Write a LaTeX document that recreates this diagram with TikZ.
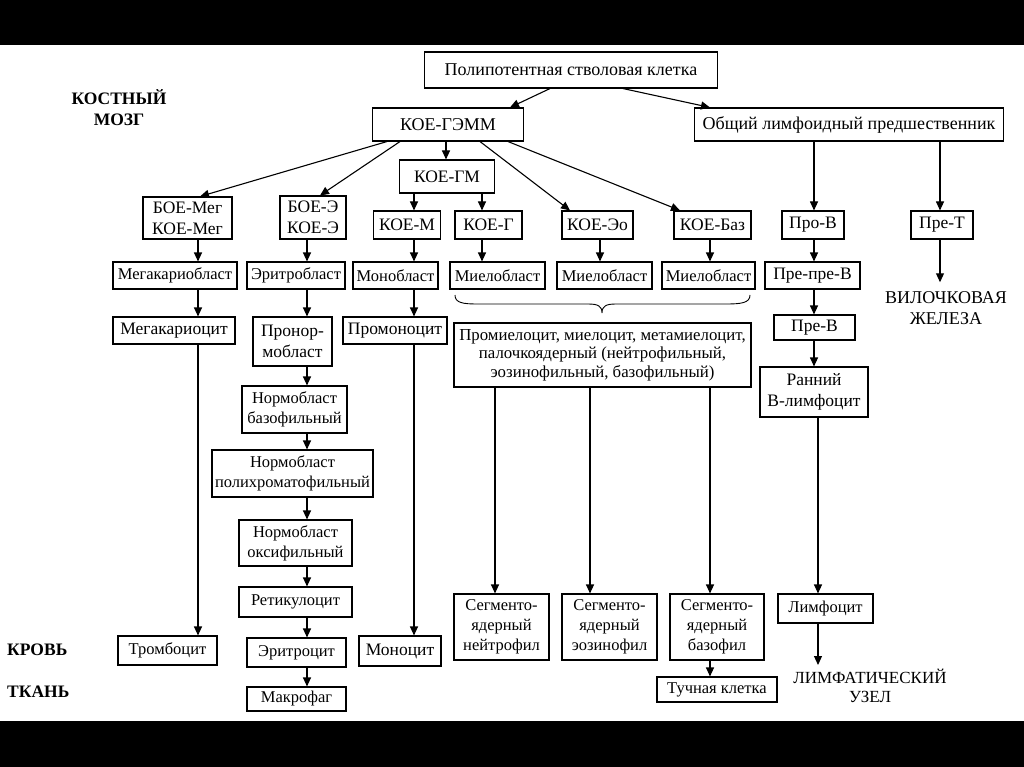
\documentclass[tikz,border=0pt]{standalone}
\usepackage{fontspec}
\setmainfont{Liberation Serif}
\usetikzlibrary{arrows.meta}
\begin{document}
\begin{tikzpicture}[x=1pt,y=-1pt,
  box/.style={draw, line width=1.1pt, inner sep=0pt, align=center, font=\fontsize{16.5}{20}\selectfont},
  bigf/.style={font=\fontsize{18}{21}\selectfont},
  midf/.style={font=\fontsize{17.5}{21}\selectfont},
  lbl/.style={inner sep=0pt, align=center, font=\fontsize{17.5}{21}\selectfont},
  blbl/.style={inner sep=0pt, align=center, font=\fontsize{17.5}{21}\selectfont\bfseries},
  arr/.style={line width=1.1pt, -{Triangle[length=9pt,width=8pt]}},
  ln/.style={line width=0.9pt}]
\useasboundingbox (0,0) rectangle (1024,767);
\fill[black] (0,0) rectangle (1024,45);
\fill[black] (0,721) rectangle (1024,767);

% labels
\node[blbl] (bm) at (119,108) {КОСТНЫЙ\\МОЗГ};
\node[blbl, anchor=west] (blood) at (7,650) {КРОВЬ};
\node[blbl, anchor=west] (tissue) at (7,692) {ТКАНЬ};

% top levels
\node[box, bigf, minimum width=293, minimum height=36] (top) at (571,70) {Полипотентная стволовая клетка};
\node[box, bigf, minimum width=151, minimum height=33] (gemm) at (448,124.5) {КОЕ-ГЭММ};
\node[box, bigf, minimum width=309, minimum height=33] (olp) at (849,124.5) {Общий лимфоидный предшественник};
\node[box, midf, minimum width=95, minimum height=33] (gm) at (447,176.5) {КОЕ-ГМ};

% row 1
\node[box, midf, minimum width=89, minimum height=42] (bmeg) at (187.5,218) {БОЕ-Мег\\КОЕ-Мег};
\node[box, midf, minimum width=66, minimum height=43] (be) at (313,217.5) {БОЕ-Э\\КОЕ-Э};
\node[box, midf, minimum width=67, minimum height=28] (kom) at (407,225) {КОЕ-М};
\node[box, midf, minimum width=67, minimum height=28] (kog) at (488.5,225) {КОЕ-Г};
\node[box, midf, minimum width=71, minimum height=28] (koeo) at (597.5,225) {КОЕ-Эо};
\node[box, midf, minimum width=77, minimum height=28] (kobaz) at (712.5,225) {КОЕ-Баз};
\node[box, midf, minimum width=62, minimum height=28] (prob) at (813,225) {Про-В};
\node[box, midf, minimum width=62, minimum height=28] (pret) at (942,225) {Пре-Т};

% row 2
\node[box, minimum width=124, minimum height=27] (mkb) at (175,275.5) {Мегакариобласт};
\node[box, minimum width=98, minimum height=27] (erb) at (296,275.5) {Эритробласт};
\node[box, minimum width=85, minimum height=27] (monb) at (395.5,275.5) {Монобласт};
\node[box, minimum width=95, minimum height=27] (mb1) at (497.5,275.5) {Миелобласт};
\node[box, minimum width=95, minimum height=27] (mb2) at (604.5,275.5) {Миелобласт};
\node[box, minimum width=93, minimum height=27] (mb3) at (708.5,275.5) {Миелобласт};
\node[box, midf, minimum width=95, minimum height=27] (ppb) at (812.5,275.5) {Пре-пре-В};
\node[lbl, font=\fontsize{18}{21}\selectfont] (thymus) at (946,308) {ВИЛОЧКОВАЯ\\ЖЕЛЕЗА};

% row 3
\node[box, midf, minimum width=122, minimum height=27] (mkc) at (174,330.5) {Мегакариоцит};
\node[box, midf, minimum width=79, minimum height=49] (pronorm) at (292.5,341.5) {Пронор-\\мобласт};
\node[box, midf, minimum width=104, minimum height=27] (promono) at (395,330.5) {Промоноцит};
\node[box, minimum width=297, minimum height=64, font=\fontsize{16.8}{18.5}\selectfont] (big) at (602.5,355) {Промиелоцит, миелоцит, метамиелоцит,\\палочкоядерный (нейтрофильный,\\эозинофильный, базофильный)};
\node[box, midf, minimum width=81, minimum height=25] (preb) at (814.5,327.5) {Пре-В};
\node[box, midf, minimum width=108, minimum height=50] (early) at (814,392) {Ранний\\В-лимфоцит};

% erythro column
\node[box, minimum width=105, minimum height=47] (nbb) at (294.5,409.5) {Нормобласт\\базофильный};
\node[box, minimum width=161, minimum height=47] (nbp) at (292.5,473.5) {Нормобласт\\полихроматофильный};
\node[box, minimum width=113, minimum height=46] (nbo) at (295.5,543) {Нормобласт\\оксифильный};
\node[box, minimum width=113, minimum height=30] (ret) at (295.5,602) {Ретикулоцит};
\node[box, minimum width=99, minimum height=29] (ery) at (296.5,652.5) {Эритроцит};
\node[box, minimum width=99, minimum height=24] (macro) at (296.5,699) {Макрофаг};
\node[box, minimum width=99, minimum height=29] (thromb) at (167.5,650.5) {Тромбоцит};
\node[box, midf, minimum width=82, minimum height=30] (mono) at (400,651) {Моноцит};

% bottom
\node[box, minimum width=95, minimum height=66] (sn) at (501.5,627) {Сегменто-\\ядерный\\нейтрофил};
\node[box, minimum width=95, minimum height=66] (se) at (609.5,627) {Сегменто-\\ядерный\\эозинофил};
\node[box, minimum width=94, minimum height=66] (sb) at (717,627) {Сегменто-\\ядерный\\базофил};
\node[box, minimum width=95, minimum height=29] (lymph) at (825.5,608.5) {Лимфоцит};
\node[box, minimum width=120, minimum height=25] (mast) at (717,689.5) {Тучная клетка};
\node[lbl, font=\fontsize{17}{19}\selectfont] (lnode) at (870,686) {ЛИМФАТИЧЕСКИЙ\\УЗЕЛ};

% column coordinates
\coordinate (cA) at (198,0);
\coordinate (cB) at (307,0);
\coordinate (cC) at (414,0);
\coordinate (cD) at (482,0);
\coordinate (cE) at (600,0);
\coordinate (cF) at (710,0);
\coordinate (cG) at (814,0);
\coordinate (cG2) at (818,0);
\coordinate (cH) at (940,0);
\coordinate (cM) at (446,0);
\coordinate (cN) at (495,0);
\coordinate (cO) at (590,0);

% slanted arrows
\draw[arr] ([xshift=-21pt]top.south) -- ([xshift=62pt]gemm.north);
\draw[arr] ([xshift=52pt]top.south) -- ([xshift=-139pt]olp.north);
\draw[arr] ([xshift=-61pt]gemm.south) -- ([xshift=12.5pt]bmeg.north);
\draw[arr] ([xshift=-48pt]gemm.south) -- ([xshift=7pt]be.north);
\draw[arr] ([xshift=32pt]gemm.south) -- ([xshift=-27.5pt]koeo.north);
\draw[arr] ([xshift=60pt]gemm.south) -- ([xshift=-32.5pt]kobaz.north);

% vertical arrows
\draw[arr] (gemm.south -| cM) -- (gm.north -| cM);
\draw[arr] (gm.south -| cC) -- (kom.north -| cC);
\draw[arr] (gm.south -| cD) -- (kog.north -| cD);
\draw[arr] (olp.south -| cG) -- (prob.north -| cG);
\draw[arr] (olp.south -| cH) -- (pret.north -| cH);

\draw[arr] (bmeg.south -| cA) -- (mkb.north -| cA);
\draw[arr] (be.south -| cB) -- (erb.north -| cB);
\draw[arr] (kom.south -| cC) -- (monb.north -| cC);
\draw[arr] (kog.south -| cD) -- (mb1.north -| cD);
\draw[arr] (koeo.south -| cE) -- (mb2.north -| cE);
\draw[arr] (kobaz.south -| cF) -- (mb3.north -| cF);
\draw[arr] (prob.south -| cG) -- (ppb.north -| cG);
\draw[arr] (pret.south -| cH) -- ([yshift=9pt]thymus.north -| cH);

\draw[arr] (mkb.south -| cA) -- (mkc.north -| cA);
\draw[arr] (erb.south -| cB) -- (pronorm.north -| cB);
\draw[arr] (monb.south -| cC) -- (promono.north -| cC);
\draw[arr] (ppb.south -| cG) -- (preb.north -| cG);
\draw[arr] (preb.south -| cG) -- (early.north -| cG);

\draw[arr] (pronorm.south -| cB) -- (nbb.north -| cB);
\draw[arr] (nbb.south -| cB) -- (nbp.north -| cB);
\draw[arr] (nbp.south -| cB) -- (nbo.north -| cB);
\draw[arr] (nbo.south -| cB) -- (ret.north -| cB);
\draw[arr] (ret.south -| cB) -- (ery.north -| cB);
\draw[arr] (ery.south -| cB) -- (macro.north -| cB);

\draw[arr] (mkc.south -| cA) -- (thromb.north -| cA);
\draw[arr] (promono.south -| cC) -- (mono.north -| cC);

\draw[arr] (big.south -| cN) -- (sn.north -| cN);
\draw[arr] (big.south -| cO) -- (se.north -| cO);
\draw[arr] (big.south -| cF) -- (sb.north -| cF);
\draw[arr] (sb.south -| cF) -- (mast.north -| cF);
\draw[arr] (early.south -| cG2) -- (lymph.north -| cG2);
\draw[arr] (lymph.south -| cG2) -- ([yshift=4pt]lnode.north -| cG2);

% brace
\coordinate (brL) at (455,295);
\coordinate (brR) at (750,295);
\coordinate (brT) at (602,313);
\draw[ln] (brL) .. controls (455,303) and (463,304) .. (478,304)
  -- (588,304) .. controls (598,304) and (602,306) .. (brT)
  .. controls (602,306) and (606,304) .. (616,304)
  -- (726,304) .. controls (741,304) and (750,303) .. (brR);
\end{tikzpicture}
\end{document}
